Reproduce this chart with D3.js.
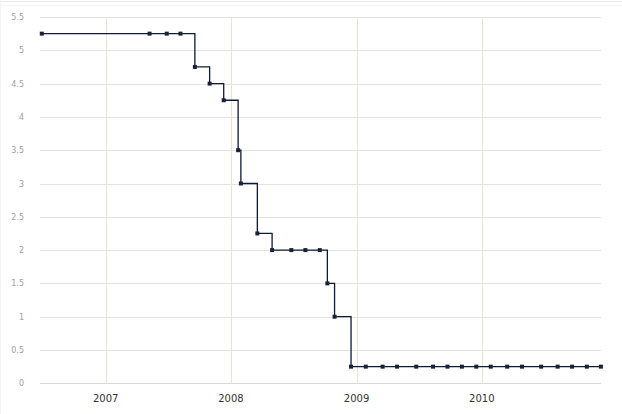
<!DOCTYPE html>
<html>
<head>
<meta charset="utf-8">
<script src="https://cdn.jsdelivr.net/npm/d3@7"></script>
<style>
  html, body { margin: 0; padding: 0; background: #fff; }
  svg { display: block; }
</style>
</head>
<body>
<svg id="chart" width="622" height="414"></svg>
<script>
const dates = [
  "2006-06-29", "2007-05-09", "2007-06-28", "2007-08-07", "2007-09-18",
  "2007-10-31", "2007-12-11", "2008-01-22", "2008-01-30", "2008-03-18",
  "2008-04-30", "2008-06-25", "2008-08-05", "2008-09-16", "2008-10-08",
  "2008-10-29", "2008-12-16", "2009-01-28", "2009-03-18", "2009-04-29",
  "2009-06-24", "2009-08-12", "2009-09-23", "2009-11-04", "2009-12-16",
  "2010-01-27", "2010-03-16", "2010-04-28", "2010-06-23", "2010-08-10",
  "2010-09-21", "2010-11-03", "2010-12-14"
];
const rates = [
  5.25, 5.25, 5.25, 5.25, 4.75,
  4.5, 4.25, 3.5, 3.0, 2.25,
  2.0, 2.0, 2.0, 2.0, 1.5,
  1.0, 0.25, 0.25, 0.25, 0.25,
  0.25, 0.25, 0.25, 0.25, 0.25,
  0.25, 0.25, 0.25, 0.25, 0.25,
  0.25, 0.25, 0.25
];
const yTicks = [0, 0.5, 1, 1.5, 2, 2.5, 3, 3.5, 4, 4.5, 5, 5.5];
const xTickYears = [2007, 2008, 2009, 2010];

const parse = d3.timeParse("%Y-%m-%d");
const data = dates.map((d, i) => ({ date: parse(d), rate: rates[i] }));

const svg = d3.select("#chart");
const W = 622, H = 414;
const plotLeft = 40, plotRight = 601, plotTop = 17, plotBottom = 383.3;

// faint top frame lines
svg.append("line").attr("x1", 0).attr("x2", W).attr("y1", 1.5).attr("y2", 1.5)
  .attr("stroke", "#eaeaea");
svg.append("line").attr("x1", 0).attr("x2", W).attr("y1", 5.5).attr("y2", 5.5)
  .attr("stroke", "#f2f2f2");
svg.append("line").attr("x1", 0.5).attr("x2", 0.5).attr("y1", 0).attr("y2", H)
  .attr("stroke", "#f2f2f2");

const x = d3.scaleTime()
  .domain([parse("2006-06-29"), parse("2010-12-14")])
  .range([41.8, 600.9]);
const y = d3.scaleLinear().domain([0, 5.5]).range([plotBottom, plotTop]);

// horizontal grid
svg.append("g").selectAll("line").data(yTicks).join("line")
  .attr("x1", plotLeft).attr("x2", plotRight)
  .attr("y1", d => Math.round(y(d)) + 0.5).attr("y2", d => Math.round(y(d)) + 0.5)
  .attr("stroke", d => d === 0 ? "#d8d8d8" : "#e3e3e3").attr("stroke-width", 1);

// vertical grid
const xTickDates = xTickYears.map(yr => new Date(yr, 0, 1));
svg.append("g").selectAll("line").data(xTickDates).join("line")
  .attr("x1", d => Math.round(x(d)) + 0.5).attr("x2", d => Math.round(x(d)) + 0.5)
  .attr("y1", plotTop).attr("y2", plotBottom)
  .attr("stroke", "#e8e4d4").attr("stroke-width", 1);

// y labels
svg.append("g").selectAll("text").data(yTicks).join("text")
  .attr("x", 24).attr("y", d => y(d) + 3)
  .attr("text-anchor", "end")
  .attr("font-family", "Verdana, 'DejaVu Sans', sans-serif")
  .attr("font-size", 8)
  .attr("fill", "#a0a0a0")
  .text(d => String(d));

// x labels
svg.append("g").selectAll("text").data(xTickDates).join("text")
  .attr("x", d => x(d)).attr("y", 402)
  .attr("text-anchor", "middle")
  .attr("font-family", "Verdana, 'DejaVu Sans', sans-serif")
  .attr("font-size", 10)
  .attr("fill", "#333")
  .text(d => d3.timeFormat("%Y")(d));

// step line
const line = d3.line().x(d => x(d.date)).y(d => y(d.rate)).curve(d3.curveStepAfter);
svg.append("path").datum(data)
  .attr("d", line)
  .attr("fill", "none")
  .attr("stroke", "#0d1b35")
  .attr("stroke-width", 1.3);

// markers
svg.append("g").selectAll("rect").data(data).join("rect")
  .attr("x", d => x(d.date) - 2).attr("y", d => y(d.rate) - 2)
  .attr("width", 4).attr("height", 4)
  .attr("fill", "#1a2238");
</script>
</body>
</html>
